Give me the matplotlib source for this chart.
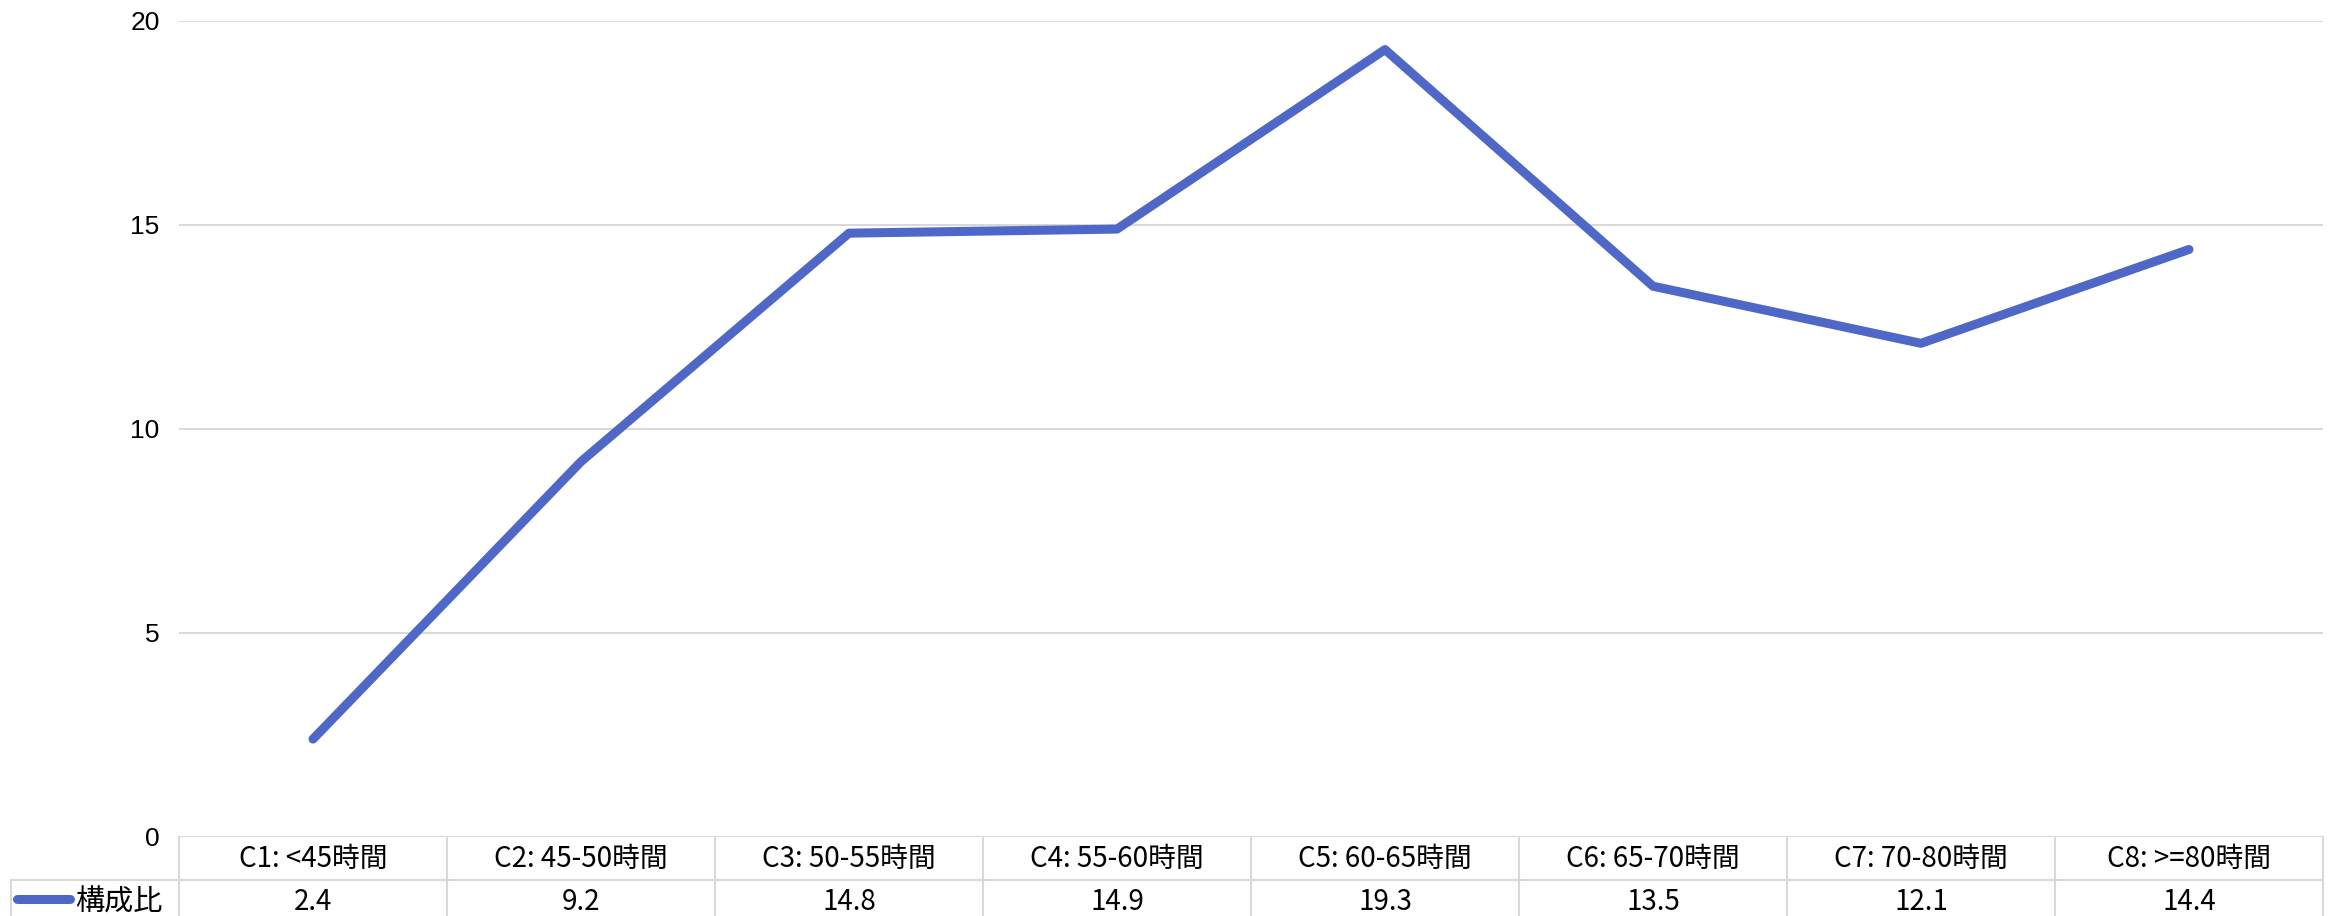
import matplotlib.pyplot as plt
from matplotlib.transforms import blended_transform_factory

plt.rcParams['font.family'] = ['Noto Sans CJK JP', 'DejaVu Sans']

# Share of workers by weekly working hours
categories = ['C1: <45時間', 'C2: 45-50時間', 'C3: 50-55時間', 'C4: 55-60時間',
              'C5: 60-65時間', 'C6: 65-70時間', 'C7: 70-80時間', 'C8: >=80時間']
values = [2.4, 9.2, 14.8, 14.9, 19.3, 13.5, 12.1, 14.4]
series_name = '構成比'
yticks = [0, 5, 10, 15, 20]

line_color = '#4F68C8'
grid_color = '#D9D9D9'

fig = plt.figure(figsize=(23.38, 9.16), dpi=100)
ax = fig.add_axes([179 / 2338, 79 / 916, 2144 / 2338, 816 / 916])

x = list(range(len(values)))
ax.plot(x, values, color=line_color, lw=6.5, solid_capstyle='round',
        solid_joinstyle='round', zorder=3)

ax.set_xlim(-0.5, len(values) - 0.5)
ax.set_ylim(0, 20)
ax.set_yticks(yticks)
ax.set_yticklabels([str(t) for t in yticks], fontsize=19, family='Liberation Sans')
ax.tick_params(axis='y', length=0, pad=14)
ax.set_xticks([])
for s in ax.spines.values():
    s.set_visible(False)
for t in yticks:
    ax.axhline(t, color=grid_color, lw=1.5, zorder=1)

# data table under the plot
trans = blended_transform_factory(ax.transData, ax.transAxes)
row_split = -43 / 816
bottom = -80 / 816
left_edge = ax.transAxes.inverted().transform(fig.transFigure.transform((11 / 2338, 0)))[0]

kw = dict(color=grid_color, lw=1.5, clip_on=False)
for i in range(len(values) + 1):
    ax.plot([i - 0.5, i - 0.5], [0, bottom], transform=trans, **kw)
ax.plot([left_edge, 1], [row_split, row_split], transform=ax.transAxes, **kw)
ax.plot([left_edge, left_edge], [row_split, bottom], transform=ax.transAxes, **kw)

for i, (c, v) in enumerate(zip(categories, values)):
    ax.text(i, row_split / 2, c, transform=trans, ha='center', va='center',
            fontsize=20)
    ax.text(i, (row_split + bottom) / 2 - 0.004, f'{v:.1f}', transform=trans,
            ha='center', va='center', fontsize=20)

# legend key in the row header
ymid = (row_split + bottom) / 2
fig_y = fig.transFigure.inverted().transform(ax.transAxes.transform((0, ymid)))[1]
fig.add_artist(plt.Line2D([17 / 2338, 70 / 2338], [fig_y, fig_y], color=line_color,
                          lw=6.5, solid_capstyle='round'))
fig.text(75 / 2338, fig_y - 0.004, series_name, ha='left', va='center', fontsize=21)

fig.savefig('out.png', dpi=100, facecolor='white')
